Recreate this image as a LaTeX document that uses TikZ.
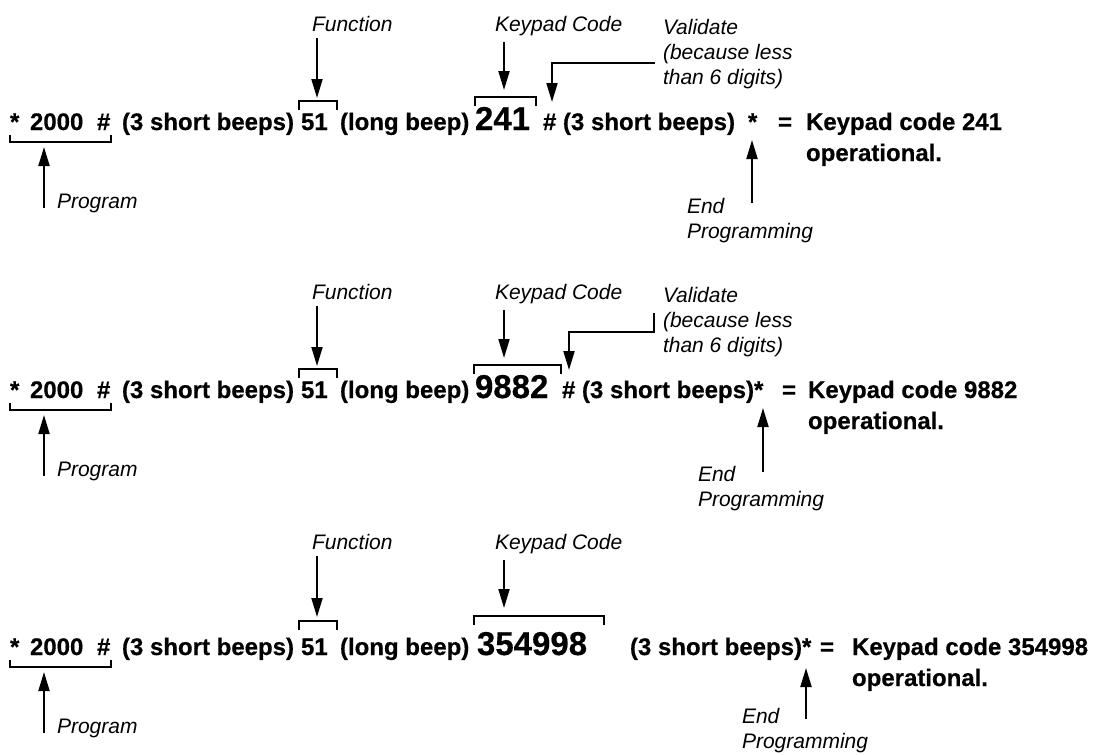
\documentclass[tikz,border=0pt]{standalone}
\usepackage{fontspec}
\setmainfont{Liberation Sans}
\newfontfamily\heavyfont{Liberation Sans Bold}[FakeBold=0.5]
\usetikzlibrary{arrows.meta}
\begin{document}
\begin{tikzpicture}[x=1pt,y=-1pt,
  main/.style={font=\heavyfont\fontsize{24}{31}\selectfont, anchor=base west, inner sep=0pt, outer sep=0pt},
  bignum/.style={font=\heavyfont\fontsize{33}{40}\selectfont, anchor=base west, inner sep=0pt, outer sep=0pt},
  lbl/.style={font=\itshape\fontsize{21}{25}\selectfont, anchor=base west, inner sep=0pt, outer sep=0pt},
  lbls/.style={font=\itshape\fontsize{21}{25}\selectfont, anchor=north west, inner sep=0pt, outer sep=0pt, align=left},
  brk/.style={line width=2pt},
  arr/.style={line width=2pt, -{Triangle[length=19pt,width=11pt]}},
]
\useasboundingbox (0,0) rectangle (1098,755);

% ================= Row 1 =================
\begin{scope}[shift={(0,130)}]
  \node[main] (s1) at (10,0) {*};
  \node[main] (z1) at (30,0) {2000};
  \node[main] (h1) at (97,0) {\#};
  \node[main] (b1) at (122,0) {(3 short beeps)};
  \node[main] (f1) at (301,0) {51};
  \node[main] (l1) at (340,0) {(long beep)};
  \node[bignum] (k1) at (475,0) {241};
  \node[main] (c1) at (543,0) {\# (3 short beeps)};
  \node[main] (e1) at (748,0) {*};
  \node[main] (q1) at (778,0) {=};
  \node[main] (r1) at (806,0) {Keypad code 241};
  \node[main] (o1) at (806,31) {operational.};
  % labels
  \node[lbl] (F1) at (312,-99) {Function};
  \node[lbl] (K1) at (495,-99) {Keypad Code};
  \node[lbls] (V1) at (663,-111) {Validate\\(because less\\than 6 digits)};
  \node[lbl] (P1) at (57,78) {Program};
  \node[lbls] (E1) at (687,68) {End\\Programming};
  % brackets
  \draw[brk] (10,5) |- (111,12) -- (111,5);
  \draw[brk] (299,-20) |- (337,-29) -- (337,-20);
  \draw[brk] (475,-24) |- (536,-33) -- (536,-24);
  % arrows
  \coordinate (F1s) at (317,-92); \coordinate (F1t) at (317,-32);
  \coordinate (K1s) at (504,-88); \coordinate (K1t) at (504,-40);
  \coordinate (V1s) at (655,-67); \coordinate (V1m) at (552,-67); \coordinate (V1t) at (552,-28);
  \coordinate (P1s) at (44,78);   \coordinate (P1t) at (44,17);
  \coordinate (E1s) at (752,73);  \coordinate (E1t) at (752,10);
  \draw[arr] (F1s) -- (F1t);
  \draw[arr] (K1s) -- (K1t);
  \draw[arr] (V1s) -- (V1m) -- (V1t);
  \draw[arr] (P1s) -- (P1t);
  \draw[arr] (E1s) -- (E1t);
\end{scope}

% ================= Row 2 =================
\begin{scope}[shift={(0,398)}]
  \node[main] (s2) at (10,0) {*};
  \node[main] (z2) at (30,0) {2000};
  \node[main] (h2) at (97,0) {\#};
  \node[main] (b2) at (122,0) {(3 short beeps)};
  \node[main] (f2) at (301,0) {51};
  \node[main] (l2) at (340,0) {(long beep)};
  \node[bignum] (k2) at (475,0) {9882};
  \node[main] (c2) at (562,0) {\# (3 short beeps)*};
  \node[main] (q2) at (782,0) {=};
  \node[main] (r2) at (808,0) {Keypad code 9882};
  \node[main] (o2) at (808,31) {operational.};
  % labels
  \node[lbl] (F2) at (312,-99) {Function};
  \node[lbl] (K2) at (495,-99) {Keypad Code};
  \node[lbls] (V2) at (663,-111) {Validate\\(because less\\than 6 digits)};
  \node[lbl] (P2) at (57,78) {Program};
  \node[lbls] (E2) at (698,68) {End\\Programming};
  % brackets
  \draw[brk] (10,5) |- (111,12) -- (111,5);
  \draw[brk] (299,-20) |- (337,-29) -- (337,-20);
  \draw[brk] (474,-24) |- (561,-33) -- (561,-24);
  % arrows
  \coordinate (F2s) at (317,-92); \coordinate (F2t) at (317,-32);
  \coordinate (K2s) at (504,-88); \coordinate (K2t) at (504,-40);
  \coordinate (V2s) at (654,-85); \coordinate (V2c) at (654,-66);
  \coordinate (V2m) at (569,-66); \coordinate (V2t) at (569,-28);
  \coordinate (P2s) at (44,78);   \coordinate (P2t) at (44,17);
  \coordinate (E2s) at (763,74);  \coordinate (E2t) at (763,10);
  \draw[arr] (F2s) -- (F2t);
  \draw[arr] (K2s) -- (K2t);
  \draw[arr] (V2s) -- (V2c) -- (V2m) -- (V2t);
  \draw[arr] (P2s) -- (P2t);
  \draw[arr] (E2s) -- (E2t);
\end{scope}

% ================= Row 3 =================
\begin{scope}[shift={(0,655)}]
  \node[main] (s3) at (10,0) {*};
  \node[main] (z3) at (30,0) {2000};
  \node[main] (h3) at (97,0) {\#};
  \node[main] (b3) at (122,0) {(3 short beeps)};
  \node[main] (f3) at (301,0) {51};
  \node[main] (l3) at (340,0) {(long beep)};
  \node[bignum] (k3) at (477,0) {354998};
  \node[main] (c3) at (630,0) {(3 short beeps)*};
  \node[main] (q3) at (820,0) {=};
  \node[main] (r3) at (852,0) {Keypad code 354998};
  \node[main] (o3) at (852,31) {operational.};
  % labels
  \node[lbl] (F3) at (312,-106) {Function};
  \node[lbl] (K3) at (495,-106) {Keypad Code};
  \node[lbl] (P3) at (57,78) {Program};
  \node[lbls] (E3) at (742,53) {End\\Programming};
  % brackets
  \draw[brk] (10,5) |- (111,12) -- (111,5);
  \draw[brk] (299,-25) |- (337,-34) -- (337,-25);
  \draw[brk] (474,-30) |- (604,-39) -- (604,-30);
  % arrows
  \coordinate (F3s) at (317,-99); \coordinate (F3t) at (317,-38);
  \coordinate (K3s) at (504,-95); \coordinate (K3t) at (504,-47);
  \coordinate (P3s) at (44,78);   \coordinate (P3t) at (44,17);
  \coordinate (E3s) at (806,64);  \coordinate (E3t) at (806,13);
  \draw[arr] (F3s) -- (F3t);
  \draw[arr] (K3s) -- (K3t);
  \draw[arr] (P3s) -- (P3t);
  \draw[arr] (E3s) -- (E3t);
\end{scope}
\end{tikzpicture}
\end{document}
